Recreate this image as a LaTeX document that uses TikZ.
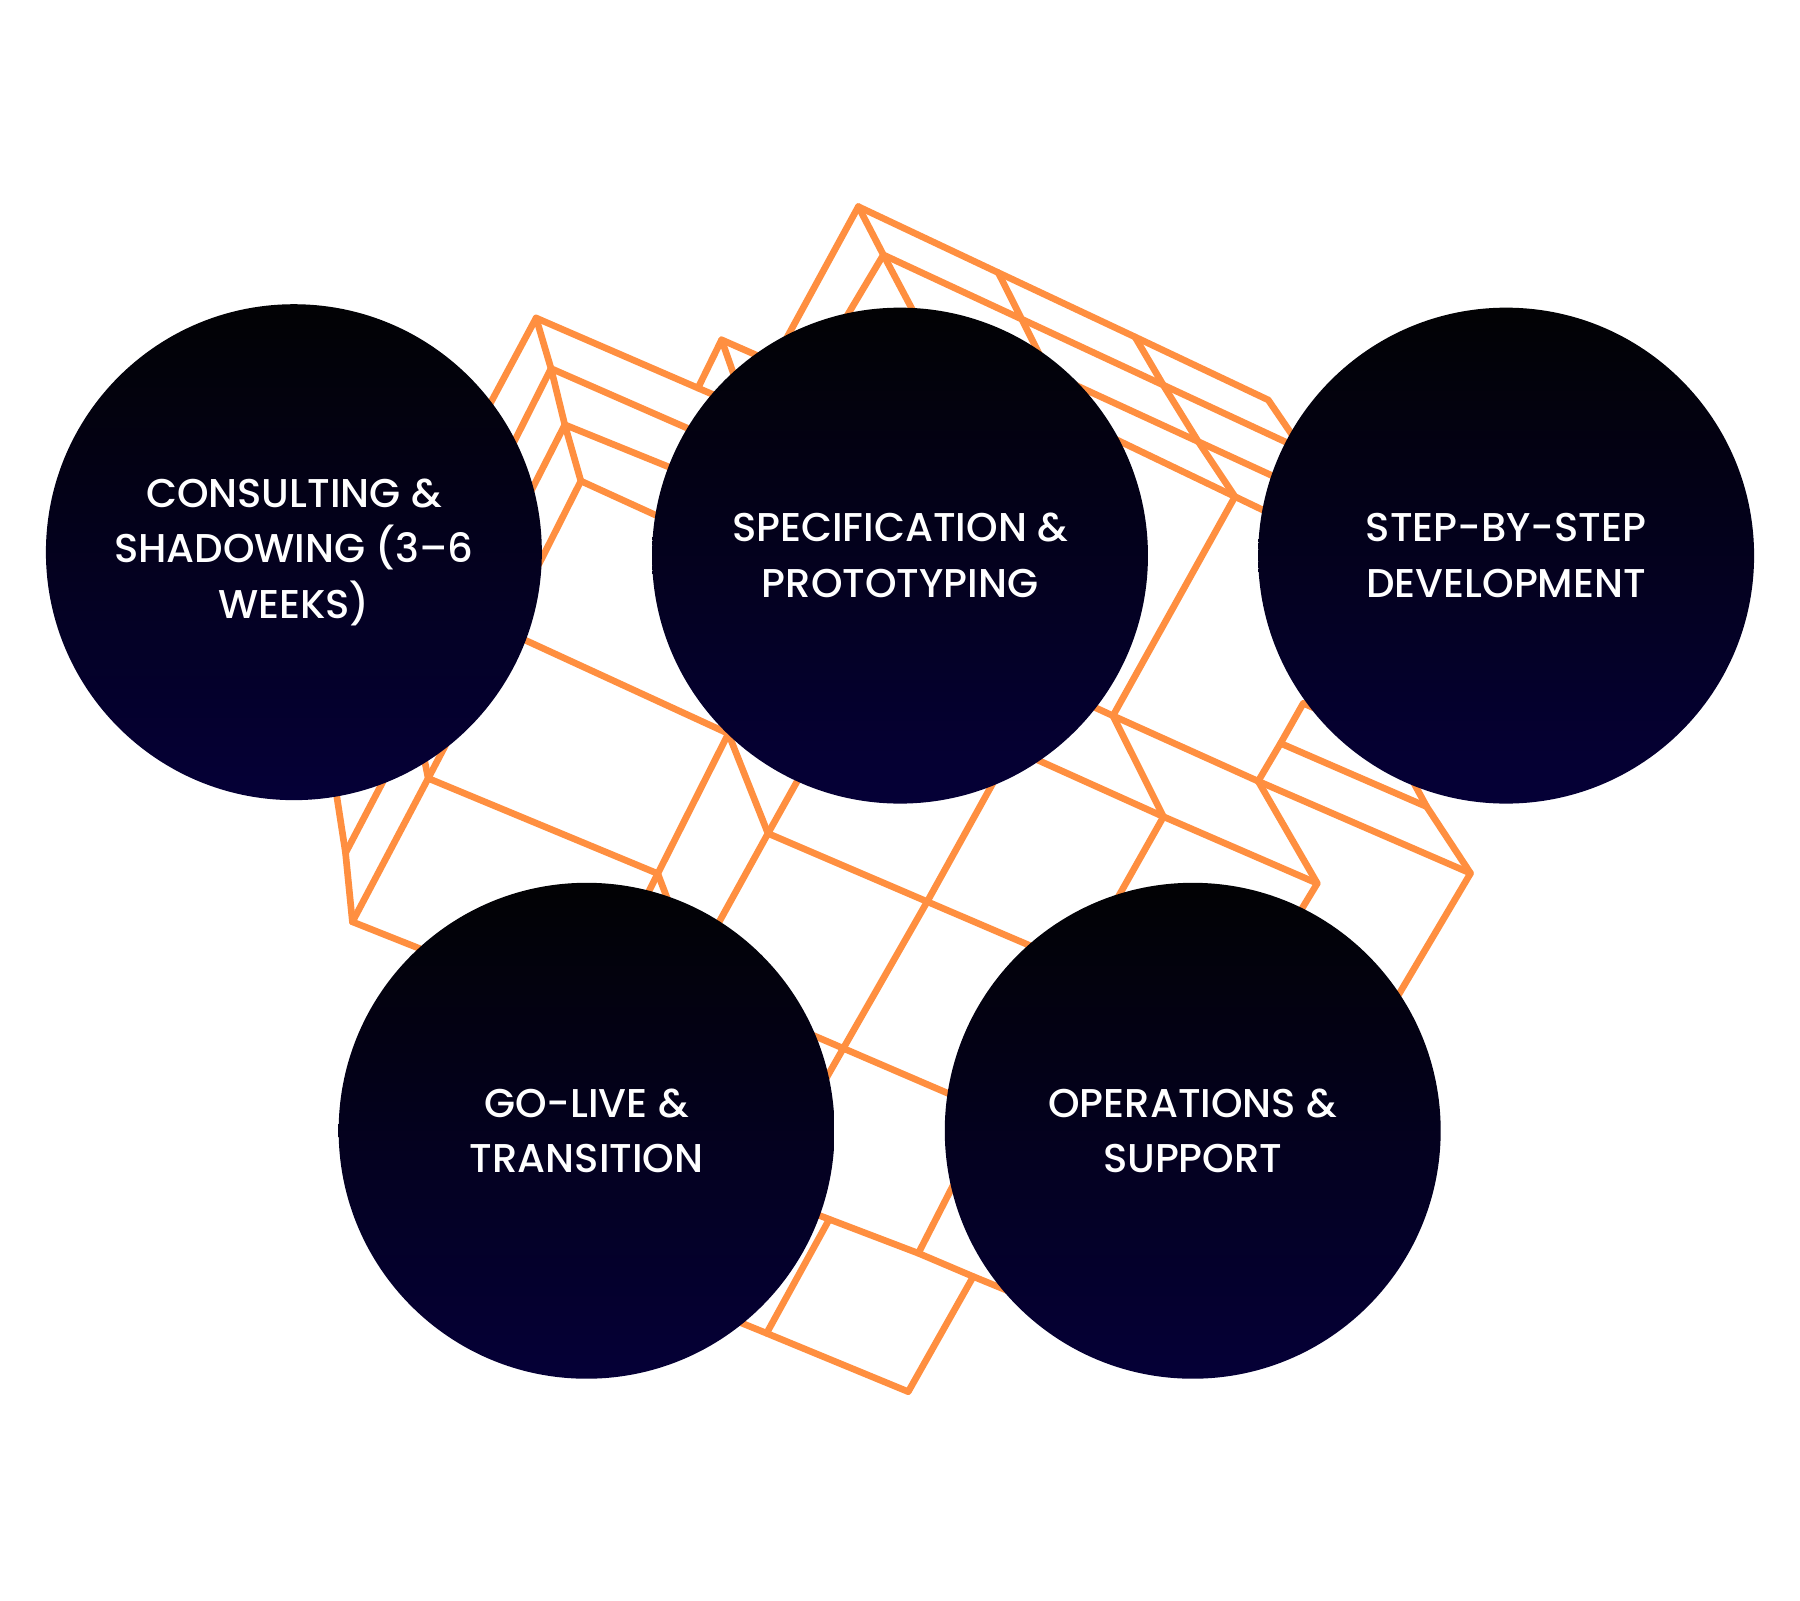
\documentclass[tikz,border=0pt]{standalone}
\usepackage{fontspec}
\setmainfont{Poppins Medium}
\definecolor{lineorange}{HTML}{FF8F40}
\definecolor{navy}{RGB}{5,0,55}
\definecolor{nearblack}{RGB}{2,2,4}
\begin{document}
\begin{tikzpicture}[x=0.5pt,y=-0.5pt,
  grid/.style={draw=lineorange,line width=2.9pt,line join=round,line cap=round},
  phase/.style={circle,minimum size=216pt,inner sep=0pt,draw=none,
    top color=nearblack,bottom color=navy,
    text=white,align=center,font=\fontsize{17.5}{24.25}\selectfont}]
\path[use as bounding box,fill=white] (0,0) rectangle (1568,1394);
% ---- vertices of the lattice
\coordinate (P1) at (467,277);
\coordinate (P2) at (480,321);
\coordinate (P3) at (492,370);
\coordinate (P4) at (506,419);
\coordinate (Q1) at (608,338);
\coordinate (M1) at (628.6,296);
\coordinate (B1) at (747.7,180);
\coordinate (B2) at (769.5,222);
\coordinate (B1a) at (869.6,237.5);
\coordinate (B1b) at (988.7,293.5);
\coordinate (B1c) at (1104.8,348.4);
\coordinate (B2a) at (890,278);
\coordinate (B2b) at (1013.3,335.4);
\coordinate (B3b) at (1043.8,384.7);
\coordinate (B4b) at (1075.8,432.6);
\coordinate (V1) at (969.5,623.5);
\coordinate (V2) at (1096,680.5);
\coordinate (V3) at (1281,760.7);
\coordinate (V4) at (1013.5,711.4);
\coordinate (V5) at (1147.5,769.5);
\coordinate (V6) at (1115.5,647.5);
\coordinate (V7) at (1242.8,702.7);
\coordinate (V9) at (1135.3,612.6);
\coordinate (C1) at (634.5,639);
\coordinate (C2) at (573,761);
\coordinate (C3) at (373,678);
\coordinate (C4) at (669,726);
\coordinate (C5) at (307,803);
\coordinate (C6) at (301,743);
\coordinate (V8) at (807.7,785.4);
\coordinate (X1) at (734.6,913.2);
\coordinate (Y1) at (722.4,1062.1);
\coordinate (Y2) at (667.8,1161.4);
\coordinate (Y3) at (800,1091.7);
\coordinate (Y4) at (847.8,1112);
\coordinate (Y5) at (791.2,1212.3);
% ---- top-left block
\draw[grid] (P1) -- (Q1) -- (660,360.5);
\draw[grid] (P2) -- (640,391);
\draw[grid] (P3) -- (640,430);
\draw[grid] (P4) -- (620,471);
\draw[grid] (P1) -- (P2) -- (P3) -- (P4);
\draw[grid] (P1) -- (400,402);
\draw[grid] (P2) -- (420,440);
\draw[grid] (P3) -- (440,472);
\draw[grid] (P4) -- (450,530);
\draw[grid] (Q1) -- (M1) -- (700,327.4);
\draw[grid] (M1) -- (649.6,356);
% ---- big upper block
\draw[grid] (B1) -- (B1a) -- (B1b) -- (B1c) -- (1140,400);
\draw[grid] (B2) -- (B2a) -- (B2b) -- (1150,399);
\draw[grid] (900,318.5) -- (B3b) -- (1140,429);
\draw[grid] (940,367.4) -- (B4b) -- (1140,463.4);
\draw[grid] (B1) -- (B2) -- (805,289);
\draw[grid] (B1a) -- (B2a) -- (923.7,344.8);
\draw[grid] (B1b) -- (B2b) -- (B3b) -- (B4b) -- (V1);
\draw[grid] (B1) -- (669.7,323);
\draw[grid] (B2) -- (720,305);
% ---- right lower block
\draw[grid] (920,600.7) -- (V1) -- (V2) -- (V3);
\draw[grid] (V1) -- (V4);
\draw[grid] (880,651.3) -- (V4) -- (V5);
\draw[grid] (V4) -- (959.6,806.9);
\draw[grid] (V2) -- (V6) -- (V9) -- (1170,628);
\draw[grid] (V2) -- (V5) -- (1118,818);
\draw[grid] (V6) -- (V7) -- (V3) -- (1205,889);
\draw[grid] (V7) -- (1225,670);
% ---- middle and left lower block
\draw[grid] (430,545) -- (C1) -- (660,650.7);
\draw[grid] (620.7,604.2) -- (C1) -- (C4);
\draw[grid] (C1) -- (C2) -- (552.7,801.3);
\draw[grid] (C2) -- (589,803);
\draw[grid] (C3) -- (C2);
\draw[grid] (C4) -- (V8) -- (925,835.6);
\draw[grid] (705.4,660.9) -- (C4) -- (610,832.9);
\draw[grid] (875.3,663.5) -- (V8) -- (X1) -- (710.5,955.4);
\draw[grid] (690,894) -- (X1) -- (850,962.8);
\draw[grid] (366,643) -- (C3);
\draw[grid] (396,634) -- (C3) -- (C5);
\draw[grid] (C5) -- (C6) -- (290.5,675);
\draw[grid] (C6) -- (342.6,663.7);
\draw[grid] (C5) -- (385,834);
% ---- bottom block
\draw[grid] (700,1053.5) -- (Y1) -- (Y3) -- (Y4) -- (890,1129.3);
\draw[grid] (Y3) -- (840.6,1012.3);
\draw[grid] (625,1143.9) -- (Y2) -- (Y5) -- (Y4);
\draw[grid] (Y2) -- (Y1);
% ---- phases
\node[phase] (consult) at (256,481) {CONSULTING \&\\SHADOWING (3–6\\WEEKS)};
\node[phase] (spec) at (784,484) {SPECIFICATION \&\\PROTOTYPING};
\node[phase] (dev) at (1312,484) {STEP-BY-STEP\\DEVELOPMENT};
\node[phase] (golive) at (511,985) {GO-LIVE \&\\TRANSITION};
\node[phase] (ops) at (1039,985) {OPERATIONS \&\\SUPPORT};
\end{tikzpicture}
\end{document}
